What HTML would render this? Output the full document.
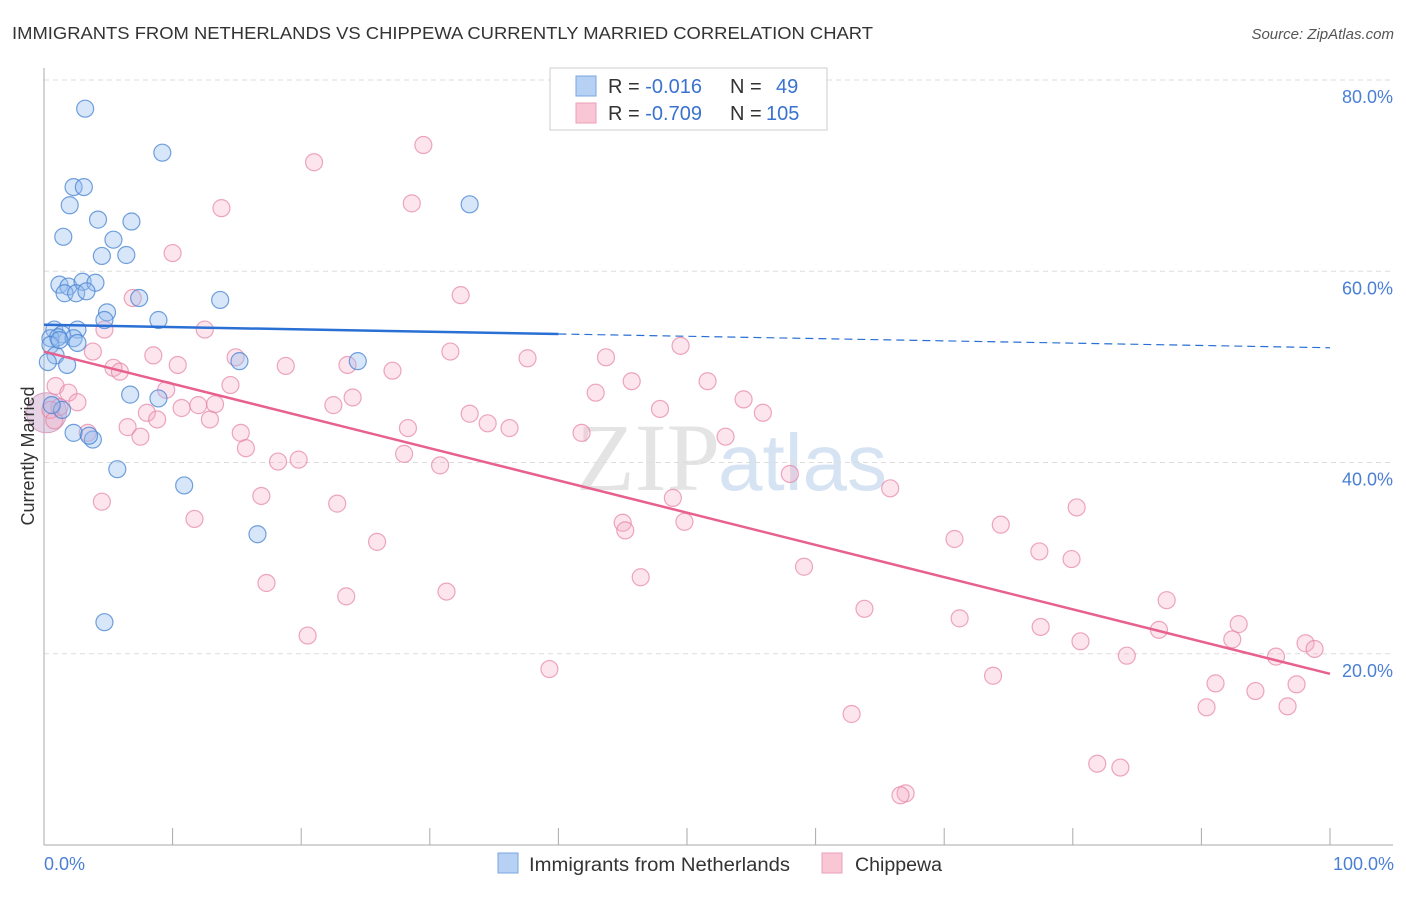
<!DOCTYPE html>
<html><head><meta charset="utf-8"><style>
body{margin:0;background:#fff;font-family:"Liberation Sans",sans-serif}
</style></head><body>
<svg id="c" width="1406" height="892" xmlns="http://www.w3.org/2000/svg">
<text x="12" y="39" font-size="17.5" fill="#333" textLength="861" lengthAdjust="spacingAndGlyphs">IMMIGRANTS FROM NETHERLANDS VS CHIPPEWA CURRENTLY MARRIED CORRELATION CHART</text>
<text x="1394" y="39" font-size="15" fill="#555" text-anchor="end" font-style="italic">Source: ZipAtlas.com</text>
<text x="720" y="490" font-size="96" fill="#e4e4e4" text-anchor="end" font-family="Liberation Serif">ZIP</text>
<text x="718" y="490" font-size="80" fill="#d6e3f3">atlas</text>
<g id="grid"></g><g id="pts"></g><g id="lines"></g>
<text transform="translate(34,456) rotate(-90)" font-size="18" fill="#333" text-anchor="middle">Currently Married</text>
<text x="44" y="870" font-size="18" fill="#4a7fd4">0.0%</text>
<text x="1394" y="870" font-size="18" fill="#4a7fd4" text-anchor="end">100.0%</text>
<g>
<rect x="550" y="68" width="277" height="62" fill="#fff" stroke="#ccc"/>
<rect x="576" y="76" width="20" height="20" fill="#b7d1f4" stroke="#7aa6e0"/>
<rect x="576" y="103" width="20" height="20" fill="#f8c6d5" stroke="#eba0b8"/>
<text x="608" y="93" font-size="20" fill="#333">R = <tspan fill="#3a72d0">-0.016</tspan><tspan x="730">N = </tspan><tspan x="776" fill="#3a72d0">49</tspan></text>
<text x="608" y="120" font-size="20" fill="#333">R = <tspan fill="#3a72d0">-0.709</tspan><tspan x="730">N = </tspan><tspan x="766" fill="#3a72d0">105</tspan></text>
</g>
<g>
<rect x="498" y="853" width="20" height="20" fill="#b7d1f4" stroke="#7aa6e0"/>
<text x="529" y="871" font-size="19" fill="#333" textLength="261" lengthAdjust="spacingAndGlyphs">Immigrants from Netherlands</text>
<rect x="822" y="853" width="20" height="20" fill="#f8c6d5" stroke="#eba0b8"/>
<text x="855" y="871" font-size="19" fill="#333" textLength="87" lengthAdjust="spacingAndGlyphs">Chippewa</text>
</g>
</svg>
<script>
const blueX=[3.2,9.2,2.3,3.1,2.0,4.2,6.8,33.1,1.5,5.4,4.5,6.4,1.2,1.9,3.0,4.0,1.6,2.5,3.3,7.4,13.7,4.9,8.9,4.7,0.8,2.6,1.4,0.5,1.1,2.3,2.6,0.5,0.9,15.2,24.4,1.8,0.3,6.7,8.9,1.4,2.3,3.8,3.5,5.7,10.9,16.6,4.7,0.6,1.2];
const blueY=[77.0,72.4,68.8,68.8,66.9,65.4,65.2,67.0,63.6,63.3,61.6,61.7,58.6,58.4,58.9,58.8,57.7,57.7,57.9,57.2,57.0,55.7,54.9,54.9,53.9,53.9,53.4,53.0,53.1,53.0,52.5,52.3,51.2,50.6,50.6,50.2,50.5,47.1,46.7,45.5,43.1,42.4,42.8,39.3,37.6,32.5,23.3,46.0,52.8];
const pinkX=[29.5,21.0,28.6,13.8,10.0,32.4,6.9,4.7,12.5,49.5,3.8,31.6,8.5,14.9,37.6,43.7,10.4,18.8,23.6,5.4,5.9,27.1,45.7,51.6,14.5,0.9,1.9,9.5,42.9,54.4,24.0,22.5,47.9,55.9,33.1,8.0,8.8,10.7,12.0,13.3,12.9,34.5,36.2,1.2,2.6,6.5,28.3,53.0,41.8,15.3,7.5,3.4,15.7,28.0,18.2,19.8,30.8,58.0,65.8,4.5,16.9,22.8,48.9,80.3,11.7,45.0,49.8,45.2,74.4,70.8,25.9,77.4,79.9,59.1,46.4,17.3,31.3,23.5,87.3,63.8,71.2,77.5,92.9,86.7,20.5,80.6,92.4,98.1,98.8,84.2,95.8,39.3,73.8,91.1,97.4,94.2,90.4,96.7,62.8,81.9,83.7,67.0,66.6,0.5,0.8];
const pinkY=[73.2,71.4,67.1,66.6,61.9,57.5,57.2,53.9,53.9,52.2,51.6,51.6,51.2,51.0,50.9,51.0,50.2,50.1,50.2,49.9,49.5,49.6,48.5,48.5,48.1,48.0,47.3,47.6,47.3,46.6,46.8,46.0,45.6,45.2,45.1,45.2,44.5,45.7,46.0,46.1,44.5,44.1,43.6,45.8,46.3,43.7,43.6,42.7,43.1,43.1,42.7,43.1,41.5,40.9,40.1,40.3,39.7,38.8,37.3,35.9,36.5,35.7,36.3,35.3,34.1,33.7,33.8,32.9,33.5,32.0,31.7,30.7,29.9,29.1,28.0,27.4,26.5,26.0,25.6,24.7,23.7,22.8,23.1,22.5,21.9,21.3,21.5,21.1,20.5,19.8,19.7,18.4,17.7,16.9,16.8,16.1,14.4,14.5,13.7,8.5,8.1,5.4,5.2,45.5,44.4];
const yTicks=[20,40,60,80];
const yTickLabels=["20.0%","40.0%","60.0%","80.0%"];
const xTicks=[0,10,20,30,40,50,60,70,80,90,100];
const blueFit=[54.4,-0.024];
const pinkFit=[51.6,-0.337];
const NS='http://www.w3.org/2000/svg';
const X=v=>44+v*12.86, Y=v=>845-v*9.5625;
function mk(t,a,p){const e=document.createElementNS(NS,t);for(const k in a)e.setAttribute(k,a[k]);p.appendChild(e);return e;}
const grid=document.getElementById('grid'),pts=document.getElementById('pts'),lines=document.getElementById('lines');
yTicks.forEach((v,i)=>{
 const l=mk('line',{x1:44,x2:1393,y1:Y(v),y2:Y(v),stroke:'#ddd','stroke-dasharray':'5,4'},grid);
 
 
 const t=mk('text',{x:1393,y:Y(v)+23,'font-size':18,fill:'#4a7fd4','text-anchor':'end'},grid);
 t.textContent=yTickLabels[i];
 
 
});
const ax=mk('line',{x1:44,x2:1393,y1:845,y2:845,stroke:'#aaa'},grid);


const ay=mk('line',{x1:44,x2:44,y1:68,y2:845,stroke:'#aaa'},grid);


xTicks.forEach(v=>{const t=mk('line',{x1:X(v),x2:X(v),y1:828,y2:845,stroke:'#aaa'},grid);
 
 });
const big=mk('circle',{cx:X(0.2),cy:Y(45.2),r:20,fill:'rgba(200,160,200,0.45)',stroke:'#d9a0c0'},pts);


pinkX.forEach((x,i)=>{const c=mk('circle',{cx:X(x),cy:Y(pinkY[i]),r:8.5,fill:'rgba(244,170,195,0.3)',stroke:'rgba(230,130,165,0.7)','stroke-width':1.2},pts);
 
 });
blueX.forEach((x,i)=>{const c=mk('circle',{cx:X(x),cy:Y(blueY[i]),r:8.5,fill:'rgba(150,190,240,0.38)',stroke:'rgba(70,130,210,0.75)','stroke-width':1.2},pts);
 
 });
const b1=mk('line',{x1:X(0),y1:Y(blueFit[0]),x2:X(40),y2:Y(blueFit[0]+blueFit[1]*40),stroke:'#2a6fd4','stroke-width':2.5},lines);


const b2=mk('line',{x1:X(40),y1:Y(blueFit[0]+blueFit[1]*40),x2:X(100),y2:Y(blueFit[0]+blueFit[1]*100),stroke:'#2a6fd4','stroke-width':1.2,'stroke-dasharray':'8,5'},lines);


const p1=mk('line',{x1:X(0),y1:Y(pinkFit[0]),x2:X(100),y2:Y(pinkFit[0]+pinkFit[1]*100),stroke:'#e8608e','stroke-width':2.5},lines);


</script>
</body></html>
